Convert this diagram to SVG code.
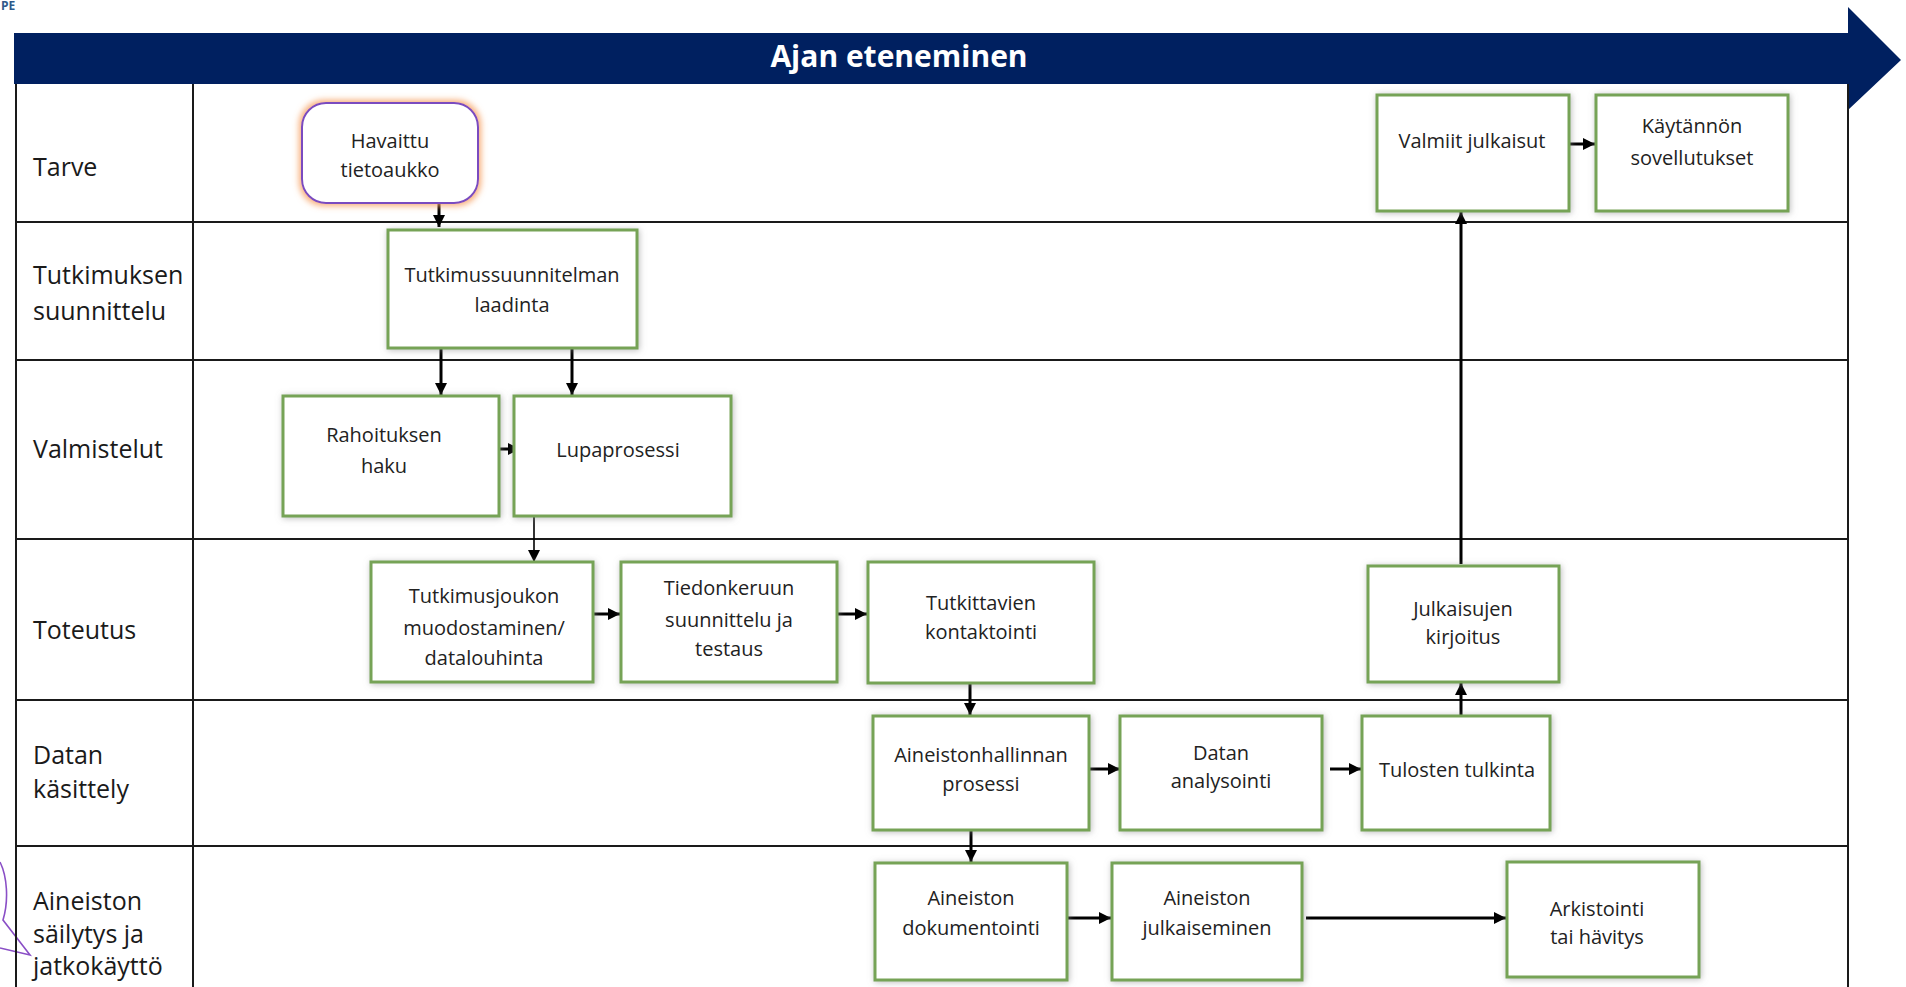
<svg xmlns="http://www.w3.org/2000/svg" width="1906" height="987" viewBox="0 0 1906 987">
<style>
.lbl{font-family:"Open Sans","Noto Sans",sans-serif;font-size:25px;fill:#1a1a1a}
.nt{font-family:"Open Sans","Noto Sans",sans-serif;font-size:20px;fill:#222;text-anchor:middle}
.box{fill:#fff;stroke:#76a356;stroke-width:3;filter:url(#sh)}
.grid{stroke:#1a1a1a;stroke-width:2;fill:none}
.c{stroke:#000;stroke-width:3;fill:none;marker-end:url(#ah)}
.ct{stroke:#000;stroke-width:1.6;fill:none;marker-end:url(#ah)}
</style>
<defs>
<filter id="sh" x="-10%" y="-10%" width="120%" height="120%">
<feGaussianBlur in="SourceAlpha" stdDeviation="3"/>
<feOffset dx="1" dy="1" result="b"/>
<feFlood flood-color="#888" flood-opacity="0.55"/>
<feComposite in2="b" operator="in"/>
<feMerge><feMergeNode/><feMergeNode in="SourceGraphic"/></feMerge>
</filter>
<filter id="glow" x="-15%" y="-15%" width="130%" height="130%">
<feMorphology in="SourceAlpha" operator="dilate" radius="2"/>
<feGaussianBlur stdDeviation="3" result="b"/>
<feFlood flood-color="#f7a468" flood-opacity="0.9"/>
<feComposite in2="b" operator="in"/>
<feMerge><feMergeNode/><feMergeNode in="SourceGraphic"/></feMerge>
</filter>
<marker id="ah" viewBox="0 0 10 10" refX="10" refY="5" markerWidth="12" markerHeight="12" markerUnits="userSpaceOnUse" orient="auto">
<path d="M0,0 L10,5 L0,10 z" fill="#000"/>
</marker>
</defs>
<rect x="0" y="0" width="1906" height="987" fill="#fff"/>
<text x="1" y="10" font-family="Open Sans,sans-serif" font-size="12" font-weight="bold" fill="#2e5a8a">PE</text>
<path d="M0,862 C7,876 9,900 3,920 L30,955 L0,948" fill="none" stroke="#8a4fc6" stroke-width="1.6"/>

<g id="banner">
<path d="M14,33 L1848,33 L1848,7 L1901,60 L1848,110 L1848,84 L14,84 z" fill="#002060"/>
<text x="899" y="67" font-family="Open Sans,sans-serif" font-size="30" font-weight="bold" fill="#fff" text-anchor="middle">Ajan eteneminen</text>
</g>

<g id="table">
<line class="grid" x1="16" y1="84" x2="16" y2="987"/>
<line class="grid" x1="193" y1="84" x2="193" y2="987"/>
<line class="grid" x1="1848" y1="84" x2="1848" y2="987"/>
<line class="grid" x1="16" y1="222" x2="1848" y2="222"/>
<line class="grid" x1="16" y1="360" x2="1848" y2="360"/>
<line class="grid" x1="16" y1="539" x2="1848" y2="539"/>
<line class="grid" x1="16" y1="700" x2="1848" y2="700"/>
<line class="grid" x1="16" y1="846" x2="1848" y2="846"/>
<text class="lbl" x="33" y="176">Tarve</text>
<text class="lbl" x="33" y="284">Tutkimuksen</text>
<text class="lbl" x="33" y="320">suunnittelu</text>
<text class="lbl" x="33" y="458">Valmistelut</text>
<text class="lbl" x="33" y="639">Toteutus</text>
<text class="lbl" x="33" y="764">Datan</text>
<text class="lbl" x="33" y="798">käsittely</text>
<text class="lbl" x="33" y="910">Aineiston</text>
<text class="lbl" x="33" y="943">säilytys ja</text>
<text class="lbl" x="33" y="975">jatkokäyttö</text>
</g>

<g id="connectors">
<line class="c" x1="439" y1="196" x2="439" y2="227"/>
<line class="c" x1="441" y1="348" x2="441" y2="395"/>
<line class="c" x1="572" y1="348" x2="572" y2="395"/>
<line class="c" x1="499" y1="449" x2="520" y2="449"/>
<line class="ct" x1="534" y1="516" x2="534" y2="562"/>
<line class="c" x1="593" y1="614" x2="620" y2="614"/>
<line class="c" x1="837" y1="614" x2="867" y2="614"/>
<line class="c" x1="970" y1="683" x2="970" y2="715"/>
<line class="c" x1="1089" y1="769" x2="1120" y2="769"/>
<line class="c" x1="1330" y1="769" x2="1361" y2="769"/>
<line class="c" x1="1461" y1="716" x2="1461" y2="683"/>
<line class="c" x1="1461" y1="564" x2="1461" y2="212"/>
<line class="c" x1="1566" y1="144" x2="1595" y2="144"/>
<line class="c" x1="971" y1="830" x2="971" y2="862"/>
<line class="c" x1="1067" y1="918" x2="1111" y2="918"/>
<line class="c" x1="1306" y1="918" x2="1506" y2="918"/>
</g>

<g id="n-havaittu">
<rect x="302" y="103" width="176" height="100" rx="24" fill="#fff" stroke="#7a4cc0" stroke-width="2" filter="url(#glow)"/>
<text class="nt" x="390" y="148">Havaittu</text>
<text class="nt" x="390" y="177">tietoaukko</text>
</g>
<g id="n-suunnitelma">
<rect class="box" x="388" y="230" width="249" height="118"/>
<text class="nt" x="512" y="282">Tutkimussuunnitelman</text>
<text class="nt" x="512" y="312">laadinta</text>
</g>
<g id="n-rahoitus">
<rect class="box" x="283" y="396" width="216" height="120"/>
<text class="nt" x="384" y="442">Rahoituksen</text>
<text class="nt" x="384" y="473">haku</text>
</g>
<g id="n-lupa">
<rect class="box" x="514" y="396" width="217" height="120"/>
<text class="nt" x="618" y="457">Lupaprosessi</text>
</g>
<g id="n-joukko">
<rect class="box" x="371" y="562" width="222" height="120"/>
<text class="nt" x="484" y="603">Tutkimusjoukon</text>
<text class="nt" x="484" y="635">muodostaminen/</text>
<text class="nt" x="484" y="665">datalouhinta</text>
</g>
<g id="n-tiedonkeruu">
<rect class="box" x="621" y="562" width="216" height="120"/>
<text class="nt" x="729" y="595">Tiedonkeruun</text>
<text class="nt" x="729" y="627">suunnittelu ja</text>
<text class="nt" x="729" y="656">testaus</text>
</g>
<g id="n-kontaktointi">
<rect class="box" x="868" y="562" width="226" height="121"/>
<text class="nt" x="981" y="610">Tutkittavien</text>
<text class="nt" x="981" y="639">kontaktointi</text>
</g>
<g id="n-aineistonhallinta">
<rect class="box" x="873" y="716" width="216" height="114"/>
<text class="nt" x="981" y="762">Aineistonhallinnan</text>
<text class="nt" x="981" y="791">prosessi</text>
</g>
<g id="n-analysointi">
<rect class="box" x="1120" y="716" width="202" height="114"/>
<text class="nt" x="1221" y="760">Datan</text>
<text class="nt" x="1221" y="788">analysointi</text>
</g>
<g id="n-tulkinta">
<rect class="box" x="1362" y="716" width="188" height="114"/>
<text class="nt" x="1457" y="777">Tulosten tulkinta</text>
</g>
<g id="n-kirjoitus">
<rect class="box" x="1368" y="566" width="191" height="116"/>
<text class="nt" x="1463" y="616">Julkaisujen</text>
<text class="nt" x="1463" y="644">kirjoitus</text>
</g>
<g id="n-valmiit">
<rect class="box" x="1377" y="95" width="192" height="116"/>
<text class="nt" x="1472" y="148">Valmiit julkaisut</text>
</g>
<g id="n-kaytannon">
<rect class="box" x="1596" y="95" width="192" height="116"/>
<text class="nt" x="1692" y="133">Käytännön</text>
<text class="nt" x="1692" y="165">sovellutukset</text>
</g>
<g id="n-dokumentointi">
<rect class="box" x="875" y="863" width="192" height="117"/>
<text class="nt" x="971" y="905">Aineiston</text>
<text class="nt" x="971" y="935">dokumentointi</text>
</g>
<g id="n-julkaiseminen">
<rect class="box" x="1112" y="863" width="190" height="117"/>
<text class="nt" x="1207" y="905">Aineiston</text>
<text class="nt" x="1207" y="935">julkaiseminen</text>
</g>
<g id="n-arkistointi">
<rect class="box" x="1507" y="862" width="192" height="115"/>
<text class="nt" x="1597" y="916">Arkistointi</text>
<text class="nt" x="1597" y="944">tai hävitys</text>
</g>
</svg>
